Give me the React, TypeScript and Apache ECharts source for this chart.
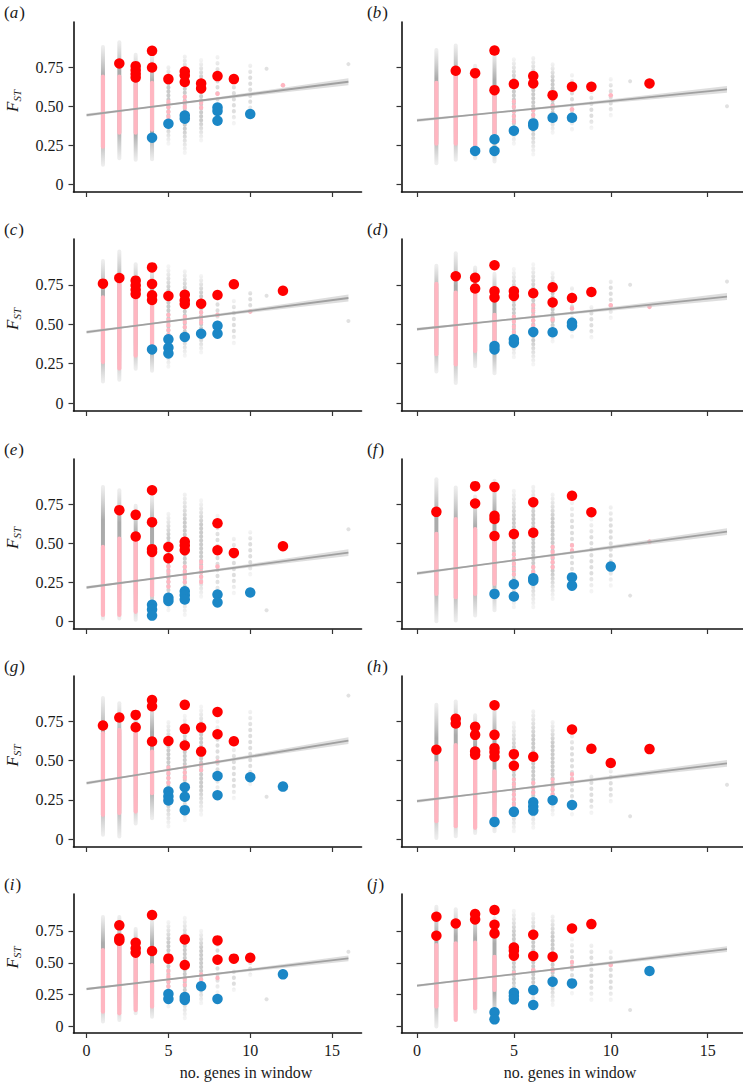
import React, { useEffect, useRef } from 'react';
import * as echarts from 'echarts';

// ---------- data ----------
const PANEL_LETTERS = ['a', 'b', 'c', 'd', 'e', 'f', 'g', 'h', 'i', 'j'];
const X_TICKS = [0, 5, 10, 15];
const X_TICK_LABELS = ['0', '5', '10', '15'];
const Y_TICKS = [0, 0.25, 0.5, 0.75];
const Y_TICK_LABELS = ['0', '0.25', '0.50', '0.75'];
const X_TITLE = 'no. genes in window';
const Y_TITLE_MAIN = 'F';
const Y_TITLE_SUB = 'ST';

// regression fit: value at x = FIT_X[0] and x = FIT_X[1]
const FIT_X = [0, 16];
const FIT_Y = [
  [0.443, 0.657], [0.409, 0.608],
  [0.45, 0.666], [0.468, 0.675],
  [0.216, 0.44], [0.307, 0.574],
  [0.357, 0.628], [0.242, 0.483],
  [0.295, 0.535], [0.321, 0.608],
];
// confidence band half-width along x
const BAND_X = [0, 3, 8, 16];
const BAND_HALF = [0.01, 0.004, 0.008, 0.022];

// outlier windows (large red dots): [genes, Fst]
const RED = [
  [[2, 0.774], [3, 0.757], [3, 0.731], [3, 0.706], [3, 0.684], [4, 0.855], [4, 0.748], [5, 0.674], [6, 0.723], [6, 0.697], [6, 0.655], [7, 0.646], [7, 0.614], [8, 0.693], [9, 0.674]],
  [[2, 0.727], [3, 0.712], [4, 0.857], [4, 0.603], [5, 0.642], [6, 0.693], [6, 0.646], [7, 0.571], [8, 0.625], [9, 0.625], [12, 0.646]],
  [[1, 0.757], [2, 0.793], [3, 0.776], [3, 0.746], [3, 0.718], [3, 0.691], [4, 0.86], [4, 0.755], [4, 0.683], [4, 0.653], [5, 0.679], [6, 0.687], [6, 0.651], [6, 0.628], [7, 0.63], [8, 0.685], [9, 0.753], [12, 0.712]],
  [[2, 0.804], [3, 0.794], [3, 0.726], [4, 0.874], [4, 0.709], [4, 0.67], [5, 0.709], [5, 0.679], [6, 0.696], [7, 0.734], [7, 0.638], [8, 0.666], [9, 0.704]],
  [[2, 0.712], [3, 0.682], [3, 0.543], [4, 0.84], [4, 0.635], [4, 0.462], [4, 0.444], [5, 0.476], [5, 0.404], [6, 0.509], [6, 0.485], [6, 0.455], [8, 0.628], [8, 0.455], [9, 0.438], [12, 0.481]],
  [[1, 0.701], [3, 0.866], [3, 0.755], [4, 0.861], [4, 0.676], [4, 0.655], [4, 0.546], [5, 0.559], [6, 0.763], [6, 0.567], [8, 0.804], [9, 0.699]],
  [[1, 0.724], [2, 0.775], [3, 0.792], [3, 0.713], [4, 0.887], [4, 0.847], [4, 0.622], [5, 0.626], [6, 0.856], [6, 0.703], [6, 0.597], [7, 0.711], [7, 0.558], [8, 0.811], [8, 0.669], [9, 0.624]],
  [[1, 0.57], [2, 0.767], [2, 0.737], [3, 0.716], [3, 0.665], [3, 0.559], [3, 0.538], [4, 0.854], [4, 0.665], [4, 0.58], [4, 0.555], [4, 0.525], [5, 0.542], [5, 0.468], [6, 0.525], [8, 0.699], [9, 0.576], [10, 0.485], [12, 0.574]],
  [[2, 0.794], [2, 0.692], [2, 0.674], [3, 0.658], [3, 0.614], [3, 0.58], [4, 0.875], [4, 0.593], [5, 0.533], [6, 0.684], [6, 0.483], [8, 0.676], [8, 0.525], [9, 0.533], [10, 0.54]],
  [[1, 0.862], [1, 0.713], [2, 0.809], [3, 0.883], [3, 0.841], [4, 0.914], [4, 0.799], [4, 0.731], [5, 0.621], [5, 0.595], [5, 0.556], [6, 0.721], [6, 0.554], [7, 0.548], [8, 0.77], [9, 0.804]],
];

// outlier windows (large blue dots): [genes, Fst]
const BLUE = [
  [[4, 0.298], [5, 0.388], [6, 0.441], [6, 0.42], [8, 0.492], [8, 0.469], [8, 0.407], [10, 0.45]],
  [[3, 0.213], [4, 0.213], [4, 0.288], [5, 0.343], [6, 0.39], [6, 0.375], [7, 0.426], [8, 0.426]],
  [[4, 0.34], [5, 0.404], [5, 0.351], [5, 0.315], [6, 0.419], [7, 0.44], [8, 0.49], [8, 0.44]],
  [[4, 0.362], [4, 0.34], [5, 0.404], [5, 0.383], [6, 0.451], [7, 0.449], [8, 0.509], [8, 0.491]],
  [[4, 0.105], [4, 0.075], [4, 0.036], [5, 0.15], [5, 0.13], [6, 0.192], [6, 0.167], [6, 0.139], [8, 0.171], [8, 0.12], [10, 0.184]],
  [[4, 0.175], [5, 0.237], [5, 0.158], [6, 0.275], [6, 0.26], [8, 0.281], [8, 0.228], [10, 0.35]],
  [[5, 0.304], [5, 0.272], [5, 0.246], [6, 0.331], [6, 0.27], [6, 0.185], [8, 0.403], [8, 0.28], [10, 0.395], [12, 0.335]],
  [[4, 0.11], [5, 0.174], [6, 0.235], [6, 0.208], [6, 0.182], [7, 0.248], [8, 0.218]],
  [[5, 0.256], [5, 0.217], [6, 0.232], [6, 0.209], [7, 0.316], [8, 0.217], [12, 0.41]],
  [[4, 0.112], [4, 0.057], [5, 0.266], [5, 0.24], [5, 0.214], [6, 0.287], [6, 0.17], [7, 0.352], [8, 0.339], [12, 0.436]],
];

// all windows (faint grey columns): [genes, lowest Fst, highest Fst]
const GREY = [
  [[1, 0.124, 0.88], [2, 0.166, 0.91], [3, 0.156, 0.83], [4, 0.16, 0.82], [5, 0.26, 0.77], [6, 0.2, 0.84], [7, 0.28, 0.8], [8, 0.39, 0.83], [9, 0.39, 0.69], [10, 0.45, 0.78], [11, 0.74, 0.74], [16, 0.77, 0.77]],
  [[1, 0.134, 0.86], [2, 0.156, 0.89], [3, 0.166, 0.76], [4, 0.145, 0.84], [5, 0.26, 0.81], [6, 0.19, 0.83], [7, 0.33, 0.78], [8, 0.35, 0.71], [9, 0.36, 0.6], [10, 0.44, 0.68], [11, 0.66, 0.66], [16, 0.5, 0.5]],
  [[1, 0.137, 0.9], [2, 0.148, 0.96], [3, 0.218, 0.88], [4, 0.205, 0.85], [5, 0.23, 0.87], [6, 0.3, 0.85], [7, 0.32, 0.81], [8, 0.51, 0.68], [9, 0.38, 0.66], [10, 0.58, 0.73], [11, 0.68, 0.68], [16, 0.52, 0.52]],
  [[1, 0.2, 0.87], [2, 0.128, 0.95], [3, 0.234, 0.86], [4, 0.19, 0.82], [5, 0.29, 0.85], [6, 0.245, 0.88], [7, 0.39, 0.83], [8, 0.42, 0.755], [9, 0.415, 0.62], [10, 0.54, 0.8], [11, 0.75, 0.75], [16, 0.77, 0.77]],
  [[1, 0.017, 0.86], [2, 0.017, 0.84], [3, 0.01, 0.74], [4, 0.06, 0.8], [5, 0.07, 0.7], [6, 0.04, 0.835], [7, 0.156, 0.776], [8, 0.135, 0.68], [9, 0.18, 0.55], [10, 0.3, 0.58], [11, 0.07, 0.07], [16, 0.59, 0.59]],
  [[1, 0, 0.91], [2, 0.004, 0.857], [3, 0.036, 0.8], [4, 0.07, 0.9], [5, 0.09, 0.846], [6, 0.09, 0.88], [7, 0.143, 0.825], [8, 0.217, 0.77], [9, 0.19, 0.655], [10, 0.228, 0.76], [11, 0.164, 0.164]],
  [[1, 0.028, 0.9], [2, 0.017, 0.866], [3, 0.1, 0.81], [4, 0.134, 0.866], [5, 0.08, 0.76], [6, 0.12, 0.79], [7, 0.155, 0.845], [8, 0.29, 0.75], [9, 0.26, 0.6], [10, 0.35, 0.834], [11, 0.27, 0.27], [16, 0.915, 0.915]],
  [[1, 0.008, 0.856], [2, 0.019, 0.877], [3, 0.04, 0.79], [4, 0.05, 0.856], [5, 0.05, 0.75], [6, 0.072, 0.835], [7, 0.157, 0.76], [8, 0.157, 0.708], [9, 0.167, 0.43], [10, 0.24, 0.453], [11, 0.146, 0.146], [16, 0.347, 0.347]],
  [[1, 0.04, 0.86], [2, 0.052, 0.86], [3, 0.104, 0.765], [4, 0.078, 0.84], [5, 0.157, 0.83], [6, 0.065, 0.86], [7, 0.183, 0.757], [8, 0.266, 0.72], [9, 0.287, 0.47], [10, 0.405, 0.52], [11, 0.214, 0.214], [16, 0.587, 0.587]],
  [[1, 0, 0.94], [2, 0.078, 0.92], [3, 0.117, 0.888], [4, 0.065, 0.85], [5, 0.183, 0.914], [6, 0.157, 0.9], [7, 0.17, 0.888], [8, 0.26, 0.69], [9, 0.209, 0.666], [10, 0.209, 0.614], [11, 0.13, 0.13]],
];

// candidate windows (pink columns): [genes, lowest Fst, highest Fst]
const PINK = [
  [[1, 0.24, 0.69], [2, 0.33, 0.69], [3, 0.33, 0.64], [4, 0.35, 0.65], [5, 0.43, 0.54], [6, 0.43, 0.58], [7, 0.49, 0.54], [8, 0.58, 0.58], [12, 0.635, 0.635]],
  [[1, 0.26, 0.65], [2, 0.26, 0.69], [3, 0.24, 0.69], [4, 0.33, 0.57], [5, 0.4, 0.55], [6, 0.44, 0.49], [7, 0.5, 0.5], [8, 0.48, 0.48], [10, 0.57, 0.57]],
  [[1, 0.26, 0.67], [2, 0.22, 0.75], [3, 0.3, 0.67], [4, 0.37, 0.63], [5, 0.43, 0.58], [6, 0.48, 0.56], [7, 0.51, 0.59], [8, 0.56, 0.56], [10, 0.58, 0.58]],
  [[1, 0.31, 0.755], [2, 0.245, 0.7], [3, 0.33, 0.7], [4, 0.38, 0.56], [5, 0.45, 0.57], [6, 0.49, 0.63], [7, 0.53, 0.53], [8, 0.6, 0.6], [10, 0.62, 0.62], [12, 0.61, 0.61]],
  [[1, 0.04, 0.476], [2, 0.04, 0.53], [3, 0.06, 0.53], [4, 0.167, 0.41], [5, 0.22, 0.36], [6, 0.25, 0.36], [7, 0.25, 0.39], [8, 0.35, 0.35]],
  [[1, 0.175, 0.56], [2, 0.154, 0.655], [3, 0.175, 0.59], [4, 0.239, 0.516], [5, 0.3, 0.43], [6, 0.313, 0.367], [7, 0.345, 0.484], [8, 0.452, 0.505], [12, 0.51, 0.51]],
  [[1, 0.155, 0.675], [2, 0.166, 0.696], [3, 0.176, 0.675], [4, 0.293, 0.558], [5, 0.357, 0.484], [6, 0.39, 0.478], [7, 0.44, 0.478], [8, 0.495, 0.495]],
  [[1, 0.114, 0.485], [2, 0.083, 0.6], [3, 0.072, 0.538], [4, 0.135, 0.432], [5, 0.22, 0.38], [6, 0.294, 0.38], [7, 0.284, 0.38], [8, 0.38, 0.42]],
  [[1, 0.117, 0.6], [2, 0.104, 0.627], [3, 0.13, 0.548], [4, 0.157, 0.483], [5, 0.274, 0.457], [6, 0.326, 0.378], [7, 0.366, 0.418], [8, 0.38, 0.405]],
  [[1, 0.157, 0.64], [2, 0.052, 0.653], [3, 0.144, 0.658], [4, 0.287, 0.548], [5, 0.418, 0.457], [6, 0.444, 0.444], [7, 0.444, 0.444], [8, 0.465, 0.509], [10, 0.483, 0.483]],
];

// ---------- layout & style ----------
const COL_LEFT = [73.5, 401.5];
const COL_WIDTH = [288, 341];
const ROW_TOP = [22, 239, 459, 676, 894];
const ROW_HEIGHT = [170, 172, 170, 171, 139];
const X_MIN = -0.8;
const X_MAX = 16.8;
const Y_MIN = -0.05;
const Y_MAX = 1.04;
const SERIF = 'Liberation Serif';
const TEXT = '#1a1a1a';
const RED_COLOR = '#ff0000';
const BLUE_COLOR = '#1b87c6';
const PINK_COLOR = '#ffb6c1';

function greyItem(_params: any, api: any) {
  const x = api.value(0);
  const a = api.coord([x, api.value(1)]);
  const b = api.coord([x, api.value(2)]);
  if (a[1] - b[1] < 1) {
    return { type: 'circle', shape: { cx: a[0], cy: a[1], r: 2 }, style: { fill: 'rgba(170,170,170,0.35)' } };
  }
  const dense = x <= 4;
  const mid = dense ? 0.8 : x <= 7 ? 0.5 : 0.32;
  const end = dense ? 0.2 : 0.12;
  const grad = new echarts.graphic.LinearGradient(0, b[1], 0, a[1], [
    { offset: 0, color: `rgba(165,165,165,${end})` },
    { offset: 0.25, color: `rgba(150,150,150,${mid})` },
    { offset: 0.75, color: `rgba(150,150,150,${mid})` },
    { offset: 1, color: `rgba(165,165,165,${end})` },
  ], true);
  const style: any = { stroke: grad, lineWidth: 4, lineCap: 'round' };
  if (!dense) style.lineDash = [0.5, x <= 7 ? 3.5 : 5.5];
  return { type: 'line', shape: { x1: a[0], y1: a[1], x2: b[0], y2: b[1] }, style };
}

function pinkItem(_params: any, api: any) {
  const x = api.value(0);
  const a = api.coord([x, api.value(1)]);
  const b = api.coord([x, api.value(2)]);
  if (a[1] - b[1] < 1) {
    return { type: 'circle', shape: { cx: a[0], cy: a[1], r: 2.3 }, style: { fill: PINK_COLOR } };
  }
  const style: any = { stroke: PINK_COLOR, lineWidth: 4.2, lineCap: 'round' };
  if (x > 4) style.lineDash = [0.5, 4.5];
  return { type: 'line', shape: { x1: a[0], y1: a[1], x2: b[0], y2: b[1] }, style };
}

function bandItem(i: number) {
  return (_params: any, api: any) => {
    const [y0, y1] = FIT_Y[i];
    const yAt = (x: number) => y0 + ((y1 - y0) * (x - FIT_X[0])) / (FIT_X[1] - FIT_X[0]);
    const upper = BAND_X.map((x, k) => api.coord([x, yAt(x) + BAND_HALF[k]]));
    const lower = BAND_X.map((x, k) => api.coord([x, yAt(x) - BAND_HALF[k]])).reverse();
    return { type: 'polygon', shape: { points: upper.concat(lower) }, style: { fill: 'rgba(195,195,195,0.55)' } };
  };
}

function buildOption() {
  const grid: any[] = [];
  const xAxis: any[] = [];
  const yAxis: any[] = [];
  const series: any[] = [];
  const graphic: any[] = [];

  PANEL_LETTERS.forEach((letter, i) => {
    const col = i % 2;
    const row = Math.floor(i / 2);
    const left = COL_LEFT[col];
    const top = ROW_TOP[row];
    const width = COL_WIDTH[col];
    const height = ROW_HEIGHT[row];
    grid.push({ left, top, width, height, containLabel: false, outerBoundsMode: 'none' });

    xAxis.push({
      gridIndex: i, type: 'value', min: X_MIN, max: X_MAX,
      axisLine: { onZero: false, lineStyle: { color: '#111', width: 1.6 } },
      axisTick: { show: true, customValues: X_TICKS, length: 5, lineStyle: { color: '#333', width: 1.2 } },
      axisLabel: {
        show: row === 4, customValues: X_TICKS, margin: 9,
        fontFamily: SERIF, fontSize: 16, color: TEXT,
        formatter: (v: number) => X_TICK_LABELS[X_TICKS.indexOf(v)] ?? String(v),
      },
      splitLine: { show: false },
    });
    yAxis.push({
      gridIndex: i, type: 'value', min: Y_MIN, max: Y_MAX,
      axisLine: { onZero: false, lineStyle: { color: '#111', width: 1.6 } },
      axisTick: { show: true, customValues: Y_TICKS, length: 5, lineStyle: { color: '#333', width: 1.2 } },
      axisLabel: {
        show: col === 0, customValues: Y_TICKS, margin: 10,
        fontFamily: SERIF, fontSize: 16, color: TEXT,
        formatter: (v: number) => Y_TICK_LABELS[Y_TICKS.indexOf(v)] ?? String(v),
      },
      splitLine: { show: false },
    });

    series.push({
      type: 'custom', xAxisIndex: i, yAxisIndex: i, silent: true,
      data: GREY[i], renderItem: greyItem,
    });
    series.push({
      type: 'custom', xAxisIndex: i, yAxisIndex: i, silent: true,
      data: PINK[i], renderItem: pinkItem,
    });
    series.push({
      type: 'custom', xAxisIndex: i, yAxisIndex: i, silent: true,
      data: [[FIT_X[0], FIT_Y[i][0]]], renderItem: bandItem(i),
    });
    series.push({
      type: 'line', xAxisIndex: i, yAxisIndex: i, silent: true, symbol: 'none',
      data: [[FIT_X[0], FIT_Y[i][0]], [FIT_X[1], FIT_Y[i][1]]],
      lineStyle: { color: '#a0a0a0', width: 1.8 },
    });
    series.push({
      type: 'scatter', xAxisIndex: i, yAxisIndex: i, silent: true,
      data: RED[i], symbolSize: 10.5, itemStyle: { color: RED_COLOR, opacity: 1 },
    });
    series.push({
      type: 'scatter', xAxisIndex: i, yAxisIndex: i, silent: true,
      data: BLUE[i], symbolSize: 10.5, itemStyle: { color: BLUE_COLOR, opacity: 1 },
    });

    // panel letter
    graphic.push({
      type: 'text', x: col === 0 ? 4 : 367, y: top - 10,
      style: {
        text: `{p|(}{l|${letter}}{p|)}`,
        verticalAlign: 'middle', align: 'left',
        rich: {
          p: { fontFamily: SERIF, fontSize: 17, fill: TEXT },
          l: { fontFamily: SERIF, fontSize: 17, fontStyle: 'italic', fill: TEXT, padding: [0, 1, 0, 0] },
        },
      },
    });

    // y-axis title F_ST on the left column
    if (col === 0) {
      graphic.push({
        type: 'group', x: 12.5, y: top + height / 2 - 6, rotation: Math.PI / 2,
        children: [
          { type: 'text', x: -11, y: 0, style: { text: Y_TITLE_MAIN, fontFamily: SERIF, fontSize: 17, fontStyle: 'italic', fill: TEXT, align: 'left', verticalAlign: 'middle' } },
          { type: 'text', x: -0.5, y: 4.5, style: { text: Y_TITLE_SUB, fontFamily: SERIF, fontSize: 11, fontStyle: 'italic', fill: TEXT, align: 'left', verticalAlign: 'middle' } },
        ],
      });
    }

    if (row === 4) {
      graphic.push({
        type: 'text', x: col === 0 ? 246 : 570, y: 1072,
        style: { text: X_TITLE, fontFamily: SERIF, fontSize: 16, fill: TEXT, align: 'center', verticalAlign: 'middle' },
      });
    }
  });

  return {
    animation: false,
    backgroundColor: '#ffffff',
    textStyle: { fontFamily: SERIF },
    grid, xAxis, yAxis, series, graphic,
  };
}

export default function App() {
  const ref = useRef<HTMLDivElement>(null);
  useEffect(() => {
    document.body.style.margin = '0';
    if (!ref.current) return;
    const chart = echarts.init(ref.current, undefined, { renderer: 'svg' });
    chart.setOption(buildOption() as any);
    return () => chart.dispose();
  }, []);
  return <div ref={ref} style={{ width: 743, height: 1082 }} />;
}
